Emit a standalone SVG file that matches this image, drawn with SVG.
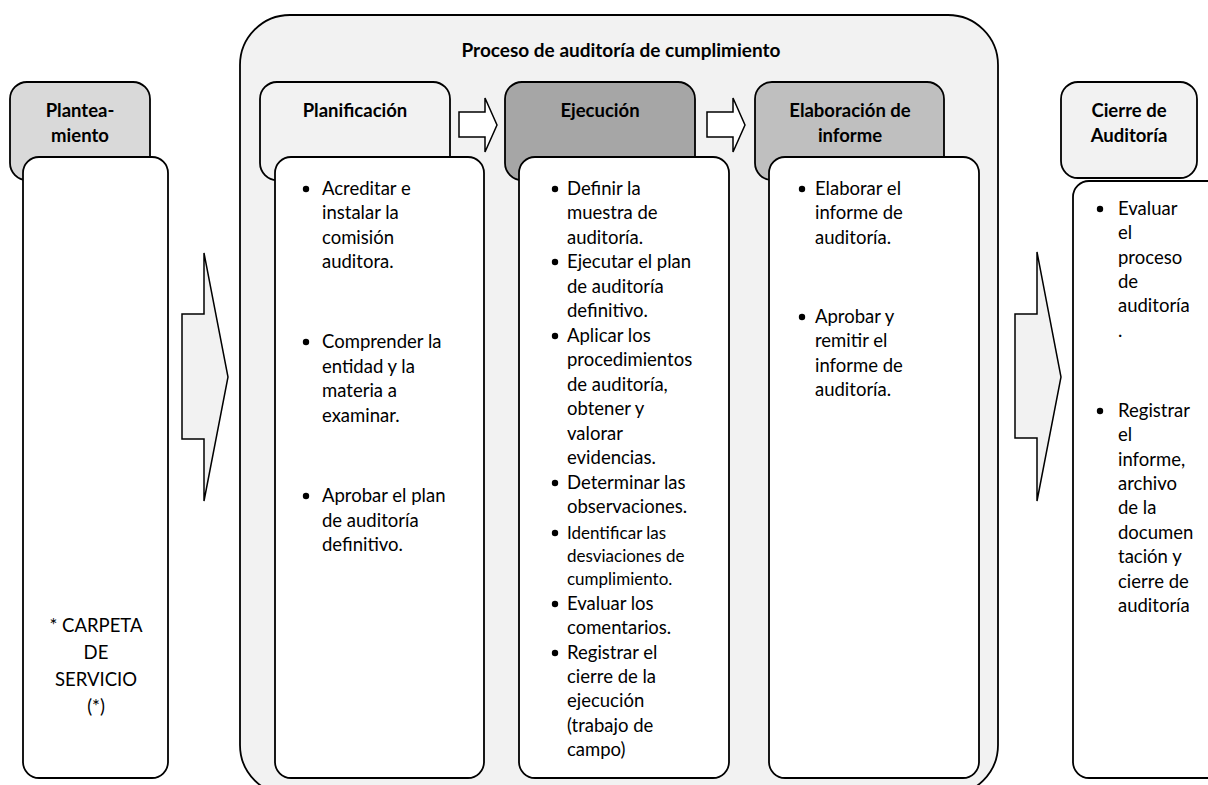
<svg xmlns="http://www.w3.org/2000/svg" width="1208" height="785" viewBox="0 0 1208 785">
<style>
.hd{stroke:#000;stroke-width:1.8}
.bd{fill:#fff;stroke:#000;stroke-width:1.8}
.t{font-family:Lato,"Open Sans","Liberation Sans",sans-serif;font-size:18.5px;fill:#000}
.b{font-family:Lato,"Open Sans","Liberation Sans",sans-serif;font-size:18.5px;font-weight:bold;fill:#000;text-anchor:middle}
.s{font-size:17px}
.c{text-anchor:middle}
.arr{stroke:#000;stroke-width:1.5;stroke-linejoin:miter}
</style>
<defs>
<circle id="bu" r="3.2" fill="#000"/>
</defs>
<rect width="1208" height="785" fill="#fff"/>

<g id="proceso">
<rect x="240" y="15" width="758" height="780" rx="50" fill="#f2f2f2" stroke="#000" stroke-width="1.8"/>
<text class="b" x="621" y="57" style="font-size:19px">Proceso de auditoría de cumplimiento</text>
</g>

<g id="planteamiento">
<rect class="hd" x="10" y="82" width="140" height="98" rx="17" fill="#d9d9d9"/>
<text class="b" x="80" y="117">Plantea-</text>
<text class="b" x="80" y="142">miento</text>
<rect class="bd" x="23" y="157" width="145" height="621" rx="16"/>
<text class="t c" x="96" y="632">* CARPETA</text>
<text class="t c" x="96" y="659">DE</text>
<text class="t c" x="96" y="686">SERVICIO</text>
<text class="t c" x="96" y="713">(*)</text>
</g>

<g id="planificacion">
<rect class="hd" x="260" y="82" width="190" height="98" rx="17" fill="#f2f2f2"/>
<text class="b" x="355" y="117">Planificación</text>
<rect class="bd" x="275" y="157" width="209" height="621" rx="16"/>
<use href="#bu" x="306" y="189"/>
<text class="t" x="322" y="195">Acreditar e</text>
<text class="t" x="322" y="219">instalar la</text>
<text class="t" x="322" y="244">comisión</text>
<text class="t" x="322" y="268">auditora.</text>
<use href="#bu" x="306" y="342"/>
<text class="t" x="322" y="348">Comprender la</text>
<text class="t" x="322" y="373">entidad y la</text>
<text class="t" x="322" y="397">materia a</text>
<text class="t" x="322" y="422">examinar.</text>
<use href="#bu" x="306" y="496"/>
<text class="t" x="322" y="502">Aprobar el plan</text>
<text class="t" x="322" y="527">de auditoría</text>
<text class="t" x="322" y="551">definitivo.</text>
</g>

<g id="ejecucion">
<rect class="hd" x="505" y="82" width="190" height="98" rx="17" fill="#a6a6a6"/>
<text class="b" x="600" y="117">Ejecución</text>
<rect class="bd" x="519" y="157" width="210" height="621" rx="16"/>
<use href="#bu" x="555" y="189"/>
<text class="t" x="567" y="195">Definir la</text>
<text class="t" x="567" y="219">muestra de</text>
<text class="t" x="567" y="244">auditoría.</text>
<use href="#bu" x="555" y="262"/>
<text class="t" x="567" y="268">Ejecutar el plan</text>
<text class="t" x="567" y="293">de auditoría</text>
<text class="t" x="567" y="317">definitivo.</text>
<use href="#bu" x="555" y="336"/>
<text class="t" x="567" y="342">Aplicar los</text>
<text class="t" x="567" y="366">procedimientos</text>
<text class="t" x="567" y="391">de auditoría,</text>
<text class="t" x="567" y="415">obtener y</text>
<text class="t" x="567" y="440">valorar</text>
<text class="t" x="567" y="464">evidencias.</text>
<use href="#bu" x="555" y="483"/>
<text class="t" x="567" y="489">Determinar las</text>
<text class="t" x="567" y="513">observaciones.</text>
<use href="#bu" x="555" y="533"/>
<text class="t s" x="567" y="539">Identificar las</text>
<text class="t s" x="567" y="562">desviaciones de</text>
<text class="t s" x="567" y="585">cumplimiento.</text>
<use href="#bu" x="555" y="604"/>
<text class="t" x="567" y="610">Evaluar los</text>
<text class="t" x="567" y="634">comentarios.</text>
<use href="#bu" x="555" y="653"/>
<text class="t" x="567" y="659">Registrar el</text>
<text class="t" x="567" y="683">cierre de la</text>
<text class="t" x="567" y="707">ejecución</text>
<text class="t" x="567" y="732">(trabajo de</text>
<text class="t" x="567" y="756">campo)</text>
</g>

<g id="elaboracion">
<rect class="hd" x="755" y="82" width="189" height="98" rx="17" fill="#bfbfbf"/>
<text class="b" x="850" y="117">Elaboración de</text>
<text class="b" x="850" y="142">informe</text>
<rect class="bd" x="769" y="157" width="210" height="621" rx="16"/>
<use href="#bu" x="802" y="189"/>
<text class="t" x="815" y="195">Elaborar el</text>
<text class="t" x="815" y="219">informe de</text>
<text class="t" x="815" y="244">auditoría.</text>
<use href="#bu" x="802" y="317"/>
<text class="t" x="815" y="323">Aprobar y</text>
<text class="t" x="815" y="347">remitir el</text>
<text class="t" x="815" y="372">informe de</text>
<text class="t" x="815" y="396">auditoría.</text>
</g>

<g id="cierre">
<rect class="hd" x="1061" y="82" width="136" height="96" rx="17" fill="#f2f2f2"/>
<text class="b" x="1129" y="117">Cierre de</text>
<text class="b" x="1129" y="142">Auditoría</text>
<rect class="bd" x="1073" y="181" width="160" height="597" rx="16"/>
<use href="#bu" x="1100" y="209"/>
<text class="t" x="1118" y="215">Evaluar</text>
<text class="t" x="1118" y="239">el</text>
<text class="t" x="1118" y="264">proceso</text>
<text class="t" x="1118" y="288">de</text>
<text class="t" x="1118" y="312">auditoría</text>
<text class="t" x="1118" y="337">.</text>
<use href="#bu" x="1100" y="411"/>
<text class="t" x="1118" y="417">Registrar</text>
<text class="t" x="1118" y="441">el</text>
<text class="t" x="1118" y="466">informe,</text>
<text class="t" x="1118" y="490">archivo</text>
<text class="t" x="1118" y="514">de la</text>
<text class="t" x="1118" y="539">documen</text>
<text class="t" x="1118" y="563">tación y</text>
<text class="t" x="1118" y="588">cierre de</text>
<text class="t" x="1118" y="612">auditoría</text>
</g>

<g id="connectors">
<path class="arr" fill="#fff" d="M459,112 H485 V98 L497,125 L485,152 V137 H459 Z"/>
<path class="arr" fill="#fff" d="M707,112 H733 V98 L745,125 L733,152 V137 H707 Z"/>
<path class="arr" fill="#f2f2f2" d="M182,314 H204 V253 L228,377 L204,501 V439 H182 Z"/>
<path class="arr" fill="#f2f2f2" d="M1015,314 H1037 V252 L1061,377 L1037,501 V438 H1015 Z"/>
</g>
</svg>
